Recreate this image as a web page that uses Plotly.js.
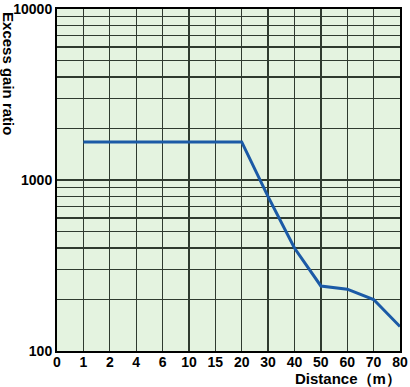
<!DOCTYPE html>
<html><head><meta charset="utf-8">
<script src="https://cdn.plot.ly/plotly-3.0.1.min.js"></script>
<style>html,body{margin:0;padding:0;background:#fff}</style>
</head><body><div id="chart" style="width:410px;height:387px"></div>
<script>
const distanceLabels = ['0','1','2','4','6','10','15','20','30','40','50','60','70','80'];
const seriesDistance = ['1','2','4','6','10','15','20','30','40','50','60','70','80'];
const excessGain = [1670,1670,1670,1670,1670,1670,1670,800,400,240,230,200,139];
const yTickVals = [100,200,300,400,500,600,700,800,900,1000,2000,3000,4000,5000,6000,7000,8000,9000,10000];
const yTickText = yTickVals.map(v => (v===100||v===1000||v===10000) ? String(v) : '');

const xIdx = seriesDistance.map(d => distanceLabels.indexOf(d));
const tf = {size:14, family:'Liberation Sans, Arial, sans-serif', color:'#000', weight:'bold'};

Plotly.newPlot('chart', [{
  x: xIdx, y: excessGain, type:'scatter', mode:'lines',
  line:{color:'#1b5aa6', width:3}, hoverinfo:'skip'
}], {
  width:410, height:387,
  margin:{l:57, r:10, t:9, b:36},
  paper_bgcolor:'#fff', plot_bgcolor:'#e4f3e0',
  showlegend:false,
  font:{size:13, family:'Liberation Sans, Arial, sans-serif', color:'#000'},
  xaxis:{
    range:[0,13], tickmode:'array', tickvals: distanceLabels.map((_,i)=>i), ticktext: distanceLabels,
    showgrid:true, gridcolor:'#2f3a2f', gridwidth:1.3, zeroline:false,
    showline:true, linecolor:'#000', linewidth:2, mirror:true,
    ticks:'', ticklabelstandoff:-3, tickfont:tf
  },
  yaxis:{
    type:'log', range:[2,4], tickmode:'array', tickvals:yTickVals, ticktext:yTickText,
    showgrid:true, gridcolor:'#2f3a2f', gridwidth:1.3, zeroline:false,
    showline:true, linecolor:'#000', linewidth:2, mirror:true,
    ticks:'', ticklabelstandoff:0, tickfont:tf
  },
  annotations:[
    {text:'<b>Excess gain ratio</b>', textangle:90, xref:'paper', yref:'paper',
     x:-0.143, y:0.81, xanchor:'center', yanchor:'middle', showarrow:false,
     font:{size:15, family:'Liberation Sans, Arial, sans-serif', color:'#000'}},
    {text:'<b>Distance（m）</b>', xref:'paper', yref:'paper',
     x:1.008, y:-0.08, xanchor:'right', yanchor:'middle', showarrow:false,
     font:{size:15, family:'Liberation Sans, Arial, sans-serif', color:'#000'}}
  ]
}, {displayModeBar:false, staticPlot:true});
</script></body></html>
